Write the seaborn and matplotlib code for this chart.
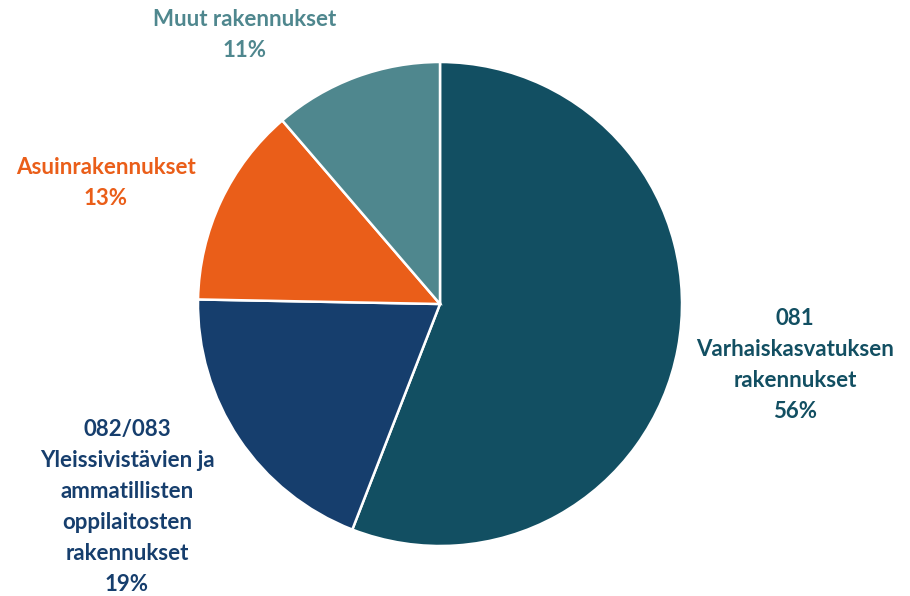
import matplotlib
matplotlib.use("Agg")
import matplotlib.pyplot as plt
import seaborn as sns

# slices, clockwise from 12 o'clock
names = [
    "081\nVarhaiskasvatuksen\nrakennukset",
    "082/083\nYleissivistävien ja\nammatillisten\noppilaitosten\nrakennukset",
    "Asuinrakennukset",
    "Muut rakennukset",
]
shares = [55.9, 19.4, 13.4, 11.3]
colors = ["#124f62", "#163e6d", "#ea5e19", "#4f878e"]

# label anchor points (pixel space, y from top)
label_xy = [(795, 365), (127, 507), (106, 183), (245, 35)]

sns.set_theme(style="white")
plt.rcParams["font.family"] = ["Lato", "DejaVu Sans"]

fig = plt.figure(figsize=(9.1, 5.96), dpi=100)
ax = fig.add_axes([0, 0, 1, 1])

ax.pie(
    shares,
    colors=colors,
    startangle=90,
    counterclock=False,
    center=(440, 596 - 304),
    radius=242,
    wedgeprops=dict(edgecolor="white", linewidth=1.8),
)
ax.set_xlim(0, 910)
ax.set_ylim(0, 596)
ax.set_aspect("equal")
ax.axis("off")

for name, val, col, (x, y) in zip(names, shares, colors, label_xy):
    ax.text(
        x, 596 - y, f"{name}\n{round(val)}%",
        ha="center", va="center", color=col,
        fontsize=16, fontweight="bold", linespacing=1.58,
    )

fig.savefig("out.png", dpi=100)
